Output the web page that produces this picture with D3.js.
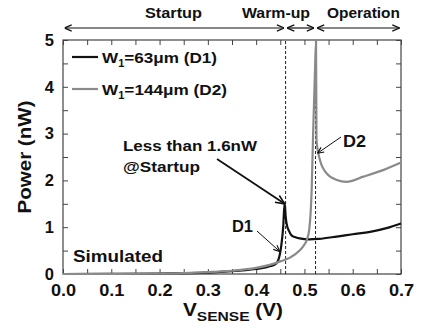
<!DOCTYPE html>
<html>
<head>
<meta charset="utf-8">
<script src="https://cdn.jsdelivr.net/npm/d3@7"></script>
<style>
  body { margin: 0; background: #fff; }
  svg text { font-family: "Liberation Sans", Arial, sans-serif; font-weight: bold; fill: #111; }
</style>
</head>
<body>
<div id="chart"></div>
<script>
// D1 (W1 = 63um) simulated power vs V_SENSE
const d1V = [0.0, 0.1, 0.2, 0.3, 0.35, 0.4, 0.42, 0.43, 0.44, 0.446, 0.452, 0.456, 0.459, 0.461, 0.463, 0.468, 0.473, 0.48, 0.49, 0.51, 0.53, 0.567, 0.6, 0.636, 0.67, 0.7];
const d1P = [0.0, 0.003, 0.01, 0.03, 0.06, 0.11, 0.14, 0.17, 0.21, 0.3, 0.6, 1.0, 1.52, 1.25, 1.08, 0.92, 0.83, 0.79, 0.76, 0.74, 0.75, 0.8, 0.85, 0.9, 0.98, 1.08];
// D2 (W1 = 144um)
const d2V = [0.0, 0.1, 0.2, 0.25, 0.3, 0.35, 0.4, 0.43, 0.45, 0.47, 0.49, 0.5, 0.505, 0.51, 0.515, 0.518, 0.522, 0.524, 0.525, 0.532, 0.546, 0.567, 0.587, 0.622, 0.663, 0.7];
const d2P = [0.0, 0.003, 0.01, 0.02, 0.04, 0.07, 0.13, 0.2, 0.27, 0.35, 0.5, 0.63, 0.73, 0.95, 1.8, 3.0, 4.4, 4.97, 2.86, 2.44, 2.15, 2.01, 1.97, 2.08, 2.22, 2.38];

const phaseNames = ['Startup', 'Warm-up', 'Operation'];
const phaseEdges = [0.0, 0.461, 0.523, 0.7];
const dashedAt = [0.461, 0.523];

const xTicks = d3.range(0, 0.7001, 0.05);
const yTicks = d3.range(0, 5.001, 0.5);

const width = 426, height = 328;
const margin = {top: 40, right: 25, bottom: 54, left: 63};

const svg = d3.select('#chart')
  .append('svg')
    .attr('width', width)
    .attr('height', height);

const defs = svg.append('defs');
function addArrow(id, size) {
  defs.append('marker')
    .attr('id', id)
    .attr('viewBox', '0 0 10 10')
    .attr('refX', 10)
    .attr('refY', 5)
    .attr('markerUnits', 'userSpaceOnUse')
    .attr('markerWidth', size)
    .attr('markerHeight', size)
    .attr('orient', 'auto-start-reverse')
    .append('path')
      .attr('d', 'M1,1 L10,5 L1,9')
      .attr('fill', 'none')
      .attr('stroke', '#111')
      .attr('stroke-width', 1.6);
}
addArrow('chev', 8);
addArrow('chev-big', 10);
addArrow('chev-small', 7);

// the original font is wider than Arial, stretch text to the measured width
function label(parent, x, y, str, size, w, anchor) {
  return parent.append('text')
    .attr('x', x).attr('y', y)
    .attr('text-anchor', anchor || 'start')
    .attr('textLength', w)
    .attr('lengthAdjust', 'spacingAndGlyphs')
    .style('font-size', size + 'px')
    .text(str);
}

// scales
const x = d3.scaleLinear().domain([0, 0.7]).range([margin.left, width - margin.right]);
const y = d3.scaleLinear().domain([0, 5]).range([height - margin.bottom, margin.top]);

// frame
svg.append('rect')
  .attr('x', x(0)).attr('y', y(5))
  .attr('width', x(0.7) - x(0)).attr('height', y(0) - y(5))
  .attr('fill', 'none')
  .attr('stroke', '#444')
  .attr('stroke-width', 1.2);

// axes (inward ticks)
svg.append('g')
  .attr('class', 'axis-x')
  .attr('transform', 'translate(0,' + y(0) + ')')
  .call(d3.axisBottom(x)
    .tickValues(xTicks)
    .tickSize(-5)
    .tickPadding(10)
    .tickFormat((d, i) => i % 2 === 0 ? d3.format('.1f')(d) : ''));
svg.append('g')
  .attr('transform', 'translate(0,' + y(5) + ')')
  .call(d3.axisTop(x).tickValues(xTicks).tickSize(-5).tickFormat(''));
svg.append('g')
  .attr('class', 'axis-y')
  .attr('transform', 'translate(' + x(0) + ',0)')
  .call(d3.axisLeft(y)
    .tickValues(yTicks)
    .tickSize(-5)
    .tickPadding(9)
    .tickFormat((d, i) => i % 2 === 0 ? d3.format('d')(d) : ''));
svg.append('g')
  .attr('transform', 'translate(' + x(0.7) + ',0)')
  .call(d3.axisRight(y).tickValues(yTicks).tickSize(-5).tickFormat(''));

svg.selectAll('.domain').remove();
svg.selectAll('.tick line').attr('stroke', '#444');
svg.selectAll('.tick text').style('font-size', '16.5px');
svg.selectAll('.axis-x .tick text').attr('transform', 'scale(1.1,1)');

// dashed phase boundaries
svg.selectAll('.phase-line')
  .data(dashedAt)
  .enter().append('line')
    .attr('x1', d => x(d)).attr('x2', d => x(d))
    .attr('y1', y(0)).attr('y2', y(5))
    .attr('stroke', '#222')
    .attr('stroke-width', 1)
    .attr('stroke-dasharray', '3,2');

// phase arrows on top
const phases = phaseNames.map((n, i) => ({name: n, from: phaseEdges[i], to: phaseEdges[i + 1]}));
svg.selectAll('.phase-arrow')
  .data(phases)
  .enter().append('line')
    .attr('x1', d => x(d.from) + 1.5)
    .attr('x2', d => x(d.to) - 1.5)
    .attr('y1', 28).attr('y2', 28)
    .attr('stroke', '#111')
    .attr('stroke-width', 1.2)
    .attr('marker-start', 'url(#chev)')
    .attr('marker-end', 'url(#chev)');
const phaseLabelX = [145, 242, 327];
const phaseLabelW = [57, 68, 73];
phases.forEach((p, i) => label(svg, phaseLabelX[i], 17.5, p.name, 14.5, phaseLabelW[i]));

// curves
const line = d3.line()
  .x(d => x(d[0]))
  .y(d => y(d[1]))
  .curve(d3.curveMonotoneX);

svg.append('path')
  .datum(d1V.map((v, i) => [v, d1P[i]]))
  .attr('fill', 'none')
  .attr('stroke', '#111')
  .attr('stroke-width', 2.2)
  .attr('d', line);
svg.append('path')
  .datum(d2V.map((v, i) => [v, d2P[i]]))
  .attr('fill', 'none')
  .attr('stroke', '#8a8a8a')
  .attr('stroke-width', 2.2)
  .attr('d', line);

// legend
const legend = svg.append('g');
const legendItems = [
  {color: '#111', label: '=63\u03bcm (D1)', y: 57, w: 115},
  {color: '#8a8a8a', label: '=144\u03bcm (D2)', y: 89, w: 125}
];
legendItems.forEach(item => {
  legend.append('line')
    .attr('x1', 72).attr('x2', 98)
    .attr('y1', item.y).attr('y2', item.y)
    .attr('stroke', item.color)
    .attr('stroke-width', 2.2);
  let t = legend.append('text')
    .attr('x', 102).attr('y', item.y + 5.5)
    .attr('textLength', item.w)
    .attr('lengthAdjust', 'spacingAndGlyphs')
    .style('font-size', '15.5px');
  t.append('tspan').text('W');
  t.append('tspan').attr('dy', 4).style('font-size', '10px').text('1');
  t.append('tspan').attr('dy', -4).text(item.label);
});

// annotations
const ann = svg.append('g');
label(ann, 123, 151, 'Less than 1.6nW', 15, 134);
label(ann, 123, 172, '@Startup', 15, 77);
ann.append('line')
  .attr('x1', 217).attr('y1', 159)
  .attr('x2', x(0.459)).attr('y2', y(1.5))
  .attr('stroke', '#111').attr('stroke-width', 1.8)
  .attr('marker-end', 'url(#chev-big)');

label(ann, 232, 232, 'D1', 16, 21);
ann.append('line')
  .attr('x1', 257).attr('y1', 231)
  .attr('x2', x(0.449)).attr('y2', y(0.48))
  .attr('stroke', '#111').attr('stroke-width', 1)
  .attr('marker-end', 'url(#chev-small)');

label(ann, 343, 147, 'D2', 16, 23);
ann.append('line')
  .attr('x1', 341).attr('y1', 137)
  .attr('x2', x(0.527)).attr('y2', y(2.58))
  .attr('stroke', '#111').attr('stroke-width', 1)
  .attr('marker-end', 'url(#chev-small)');

label(ann, 73, 262, 'Simulated', 16, 90);

// axis titles
svg.append('text')
  .attr('transform', 'translate(31,' + ((y(0) + y(5)) / 2) + ') rotate(-90)')
  .attr('text-anchor', 'middle')
  .attr('textLength', 113)
  .attr('lengthAdjust', 'spacingAndGlyphs')
  .style('font-size', '18px')
  .text('Power (nW)');

let xt = svg.append('text')
  .attr('x', 183)
  .attr('y', 316)
  .attr('textLength', 100)
  .attr('lengthAdjust', 'spacingAndGlyphs')
  .style('font-size', '18px');
xt.append('tspan').text('V');
xt.append('tspan').attr('dy', 5).style('font-size', '13.5px').text('SENSE');
xt.append('tspan').attr('dy', -5).text(' (V)');
</script>
</body>
</html>
